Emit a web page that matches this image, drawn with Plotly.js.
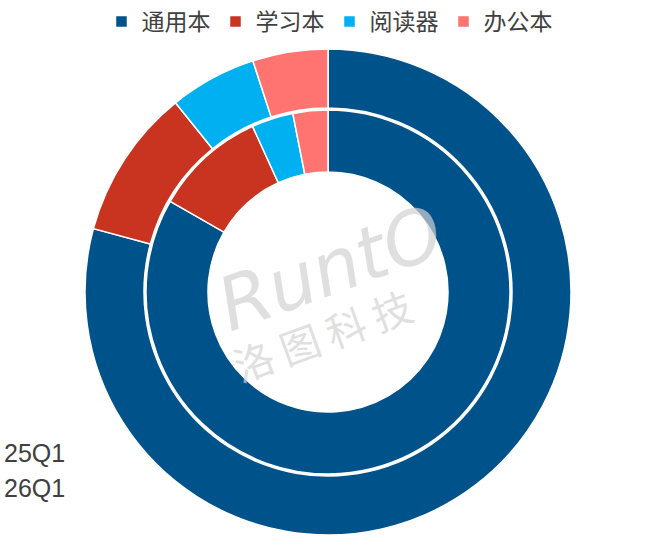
<!DOCTYPE html>
<html>
<head>
<meta charset="utf-8">
<script src="https://cdn.plot.ly/plotly-3.0.1.min.js"></script>
<style>html,body{margin:0;padding:0;background:#fff;}#chart{width:659px;height:538px;}</style>
</head>
<body>
<div id="chart"></div>
<script>
const categories = ["通用本", "学习本", "阅读器", "办公本"];
const seriesNames = ["25Q1", "26Q1"];
const values25Q1 = [83.3, 9.9, 3.7, 3.1];
const values26Q1 = [79.2, 10.0, 5.8, 5.0];
const colors = ["#00538A", "#C93421", "#00B0F0", "#FF7370"];

const W = 659, H = 538, cx = 328, cy = 292;
function dom(r) {
  return {
    x: [(cx - r) / W, (cx + r) / W],
    y: [(H - cy - r) / H, (H - cy + r) / H]
  };
}

const common = {
  type: "pie",
  labels: categories,
  sort: false,
  direction: "clockwise",
  rotation: 0,
  textinfo: "none",
  hoverinfo: "label+value+name",
  marker: { colors: colors, line: { color: "#ffffff", width: 1.5 } }
};

const inner = Object.assign({}, common, {
  name: seriesNames[0],
  values: values25Q1,
  domain: dom(182),
  hole: 120 / 182
});
const outer = Object.assign({}, common, {
  name: seriesNames[1],
  values: values26Q1,
  domain: dom(243),
  hole: 184 / 243
});

const layout = {
  width: W, height: H,
  margin: { l: 0, r: 0, t: 0, b: 0 },
  paper_bgcolor: "#fff",
  font: { family: "Noto Sans CJK SC, sans-serif", color: "#404040" },
  showlegend: true,
  legend: {
    orientation: "h",
    x: 0.5, xanchor: "center",
    y: 1, yanchor: "top",
    font: { size: 23, color: "#404040", family: "Noto Sans CJK SC, sans-serif" },
    itemwidth: 30,
    tracegroupgap: 0
  },
  annotations: [
    { text: seriesNames[0], xref: "paper", yref: "paper", x: 2 / W, xanchor: "left", y: (H - 453) / H, yanchor: "middle", showarrow: false, font: { size: 25, color: "#404040", family: "Liberation Sans, sans-serif" } },
    { text: seriesNames[1], xref: "paper", yref: "paper", x: 2 / W, xanchor: "left", y: (H - 488) / H, yanchor: "middle", showarrow: false, font: { size: 25, color: "#404040", family: "Liberation Sans, sans-serif" } },
    { text: "<i>RuntO</i>", xref: "paper", yref: "paper", x: 330 / W, y: (H - 268) / H, showarrow: false, textangle: -20, font: { size: 74, color: "rgba(210,210,210,0.7)", family: "DejaVu Sans, sans-serif" } },
    { text: "洛 图 科 技", xref: "paper", yref: "paper", x: 322 / W, y: (H - 335) / H, showarrow: false, textangle: -20, font: { size: 40, color: "rgba(210,210,210,0.7)", family: "Noto Sans CJK SC, sans-serif" } }
  ]
};

Plotly.newPlot("chart", [inner, outer], layout, { displayModeBar: false, staticPlot: true });
</script>
</body>
</html>
